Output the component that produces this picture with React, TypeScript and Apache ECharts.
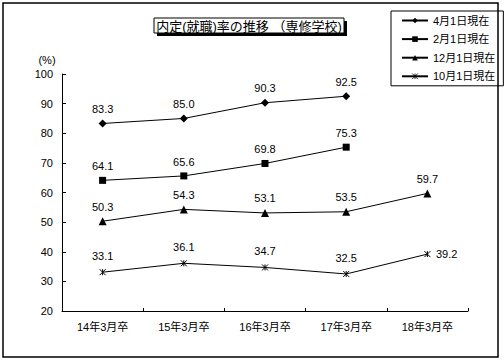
import React, { useEffect, useRef } from "react";
import * as echarts from "echarts";

const categories = ["14年3月卒", "15年3月卒", "16年3月卒", "17年3月卒", "18年3月卒"];
const seriesNames = ["4月1日現在", "2月1日現在", "12月1日現在", "10月1日現在"];
const apr1 = [83.3, 85.0, 90.3, 92.5, null];
const feb1 = [64.1, 65.6, 69.8, 75.3, null];
const dec1 = [50.3, 54.3, 53.1, 53.5, 59.7];
const oct1 = [33.1, 36.1, 34.7, 32.5, 39.2];
const titleText = "内定(就職)率の推移 （専修学校)";

const FONT = "'Liberation Sans', 'Noto Sans CJK JP', sans-serif";
const ASTER = "path://M0,0L10,10M10,0L0,10M5,0L5,10";

export default function App() {
  const ref = useRef<HTMLDivElement>(null);
  useEffect(() => {
    document.body.style.margin = "0";
    const chart = echarts.init(ref.current!, null, { renderer: "svg" });
    const label = {
      show: true,
      position: "top" as const,
      distance: 5,
      color: "#000",
      fontSize: 11,
      fontFamily: FONT,
      formatter: (p: any) => (p.value == null ? "" : Number(p.value).toFixed(1)),
    };
    const mk = (name: string, data: any[], symbol: string, size: number, extra: any = {}) => ({
      name,
      type: "line",
      data,
      symbol,
      symbolSize: size,
      lineStyle: { color: "#000", width: 1 },
      itemStyle: { color: "#000", borderColor: "#000", borderWidth: 0 },
      label,
      ...extra,
    });
    const series = [
      mk(seriesNames[0], apr1, "diamond", 8),
      mk(seriesNames[1], feb1, "rect", 7),
      mk(seriesNames[2], dec1, "triangle", 8),
      mk(seriesNames[3], oct1, ASTER, 6, {
        itemStyle: { color: "none", borderColor: "#000", borderWidth: 1 },
        data: oct1.map((v, i) =>
          i === oct1.length - 1
            ? { value: v, label: { position: "right", distance: 3 } }
            : { value: v, label: { position: "top" } }
        ),
      }),
    ];
    chart.setOption({
      animation: false,
      backgroundColor: "#fff",
      grid: { left: 62, top: 74, right: 36, bottom: 50, containLabel: false },
      xAxis: {
        type: "category",
        data: categories,
        boundaryGap: true,
        axisLine: { lineStyle: { color: "#000", width: 1 } },
        axisTick: { show: true, inside: true, length: 3, lineStyle: { color: "#000" } },
        axisLabel: { color: "#000", fontSize: 11, fontFamily: FONT, margin: 10 },
        splitLine: { show: false },
      },
      yAxis: {
        type: "value",
        min: 20,
        max: 100,
        interval: 10,
        axisLine: { show: true, lineStyle: { color: "#000", width: 1 } },
        axisTick: { show: true, inside: true, length: 4, lineStyle: { color: "#000" } },
        axisLabel: { color: "#000", fontSize: 11, fontFamily: FONT, margin: 9 },
        splitLine: { show: false },
      },
      legend: {
        orient: "vertical",
        left: 391,
        top: 11,
        width: 105,
        padding: [4, 8, 4, 10],
        itemGap: 7.6,
        itemWidth: 26,
        itemHeight: 7,
        borderColor: "#000",
        borderWidth: 1,
        backgroundColor: "#fff",
        textStyle: { color: "#000", fontSize: 11, fontFamily: FONT },
        data: [
          seriesNames[0],
          seriesNames[1],
          seriesNames[2],
          {
            name: seriesNames[3],
            itemStyle: { color: "none", borderColor: "#000", borderWidth: 0.8 },
          },
        ],
      },
      graphic: [
        {
          type: "rect",
          shape: { x: 3, y: 3, width: 495, height: 354 },
          style: { fill: "none", stroke: "#000", lineWidth: 1.5 },
          z: 100,
          silent: true,
        },
        {
          type: "rect",
          shape: { x: 157, y: 21, width: 190, height: 15 },
          style: { fill: "#000" },
        },
        {
          type: "rect",
          shape: { x: 154, y: 18, width: 190, height: 15 },
          style: { fill: "#fff", stroke: "#000", lineWidth: 1 },
        },
        {
          type: "text",
          x: 249,
          y: 26,
          style: {
            text: titleText,
            fill: "#000",
            fontSize: 13,
            fontFamily: FONT,
            align: "center",
            verticalAlign: "middle",
          },
        },
        {
          type: "text",
          x: 47,
          y: 60,
          style: {
            text: "(%)",
            fill: "#000",
            fontSize: 11,
            fontFamily: FONT,
            align: "center",
            verticalAlign: "middle",
          },
        },
      ],
      series,
    });
    return () => chart.dispose();
  }, []);
  return (
    <div
      ref={ref}
      style={{ position: "absolute", left: 0, top: 0, width: 504, height: 361 }}
    />
  );
}
